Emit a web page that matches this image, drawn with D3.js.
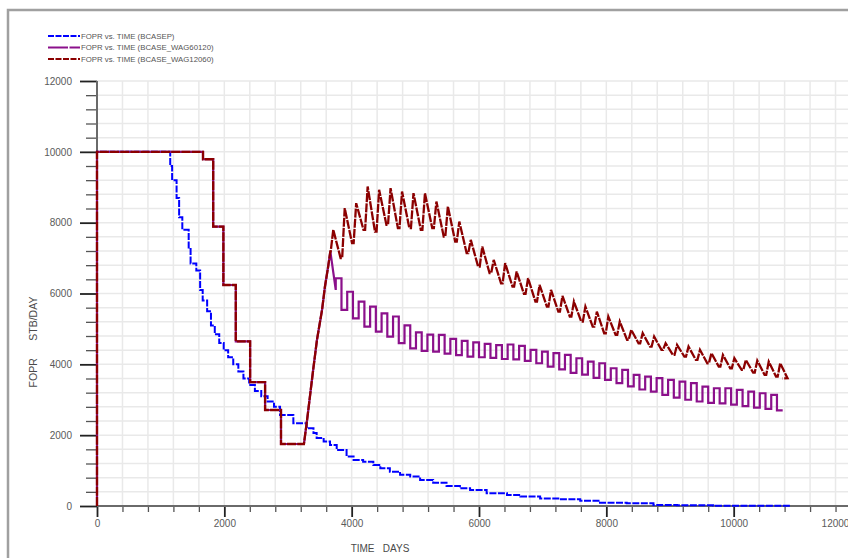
<!DOCTYPE html>
<html>
<head>
<meta charset="utf-8">
<script src="https://cdn.jsdelivr.net/npm/d3@7"></script>
<style>
  html, body { margin: 0; padding: 0; background: #ffffff; }
  svg { display: block; font-family: "Liberation Sans", Arial, sans-serif; }
</style>
</head>
<body>
<svg id="chart" width="848" height="558"></svg>
<script>
// ---- data -------------------------------------------------------------
const xMajorTicks = [0, 2000, 4000, 6000, 8000, 10000, 12000];
const yMajorTicks = [0, 2000, 4000, 6000, 8000, 10000, 12000];
const minorStep = 400;

const seriesNames = [
  "FOPR vs. TIME (BCASEP)",
  "FOPR vs. TIME (BCASE_WAG60120)",
  "FOPR vs. TIME (BCASE_WAG12060)"
];
const seriesColors = ["#0000ff", "#8b108b", "#8b0000"];

// base case: [time (days), oil rate (STB/day)], held until the next report
const baseCase = [
  [0, 0], [0, 10000], [1150, 9600], [1180, 9200], [1250, 8700], [1290, 8150],
  [1340, 7800], [1440, 7300], [1470, 6850], [1560, 6650], [1620, 6100],
  [1660, 5800], [1730, 5500], [1790, 5100], [1850, 4850], [1920, 4600],
  [1990, 4400], [2060, 4200], [2140, 4000], [2220, 3800], [2300, 3600],
  [2390, 3420], [2480, 3250], [2580, 3100], [2680, 2950], [2780, 2800],
  [2875, 2570], [3084, 2340], [3294, 2195], [3400, 2060], [3450, 1920],
  [3560, 1820], [3660, 1720], [3765, 1580], [3920, 1400], [4030, 1300],
  [4180, 1250], [4340, 1160], [4450, 1065], [4600, 970], [4760, 880],
  [4920, 830], [5075, 735], [5280, 660], [5490, 565], [5700, 500],
  [5860, 450], [6120, 360], [6440, 310], [6650, 265], [6960, 215],
  [7270, 190], [7590, 150], [7900, 95], [8320, 75], [8740, 30],
  [9110, 20], [9680, 10], [10200, 5], [10890, 5]
];

// shared history of both WAG cases before injection starts
const wagHistory = [
  [0, 0], [0, 10000], [1665, 10000], [1665, 9790], [1825, 9790], [1825, 7890],
  [1985, 7890], [1985, 6240], [2180, 6240], [2180, 4650], [2405, 4650],
  [2405, 3500], [2640, 3500], [2640, 2710], [2890, 2710], [2890, 1750],
  [3250, 1750], [3300, 2430], [3395, 3840], [3455, 4690], [3535, 5540],
  [3580, 6190], [3630, 6750], [3665, 7190]
];

// WAG 60/120 cycles: [peak time, cycle high rate, cycle low rate]
const wag60120 = [
  [3800, 6430, 5540], [3980, 6050, 5300], [4160, 5770, 5065], [4340, 5630, 4925],
  [4520, 5440, 4783], [4700, 5350, 4600], [4880, 5100, 4450], [5060, 4900, 4380],
  [5240, 4840, 4360], [5420, 4830, 4300], [5600, 4720, 4260], [5780, 4660, 4220],
  [5960, 4620, 4200], [6140, 4580, 4180], [6320, 4540, 4150], [6500, 4560, 4140],
  [6680, 4520, 4100], [6860, 4407, 4031], [7040, 4359, 3937], [7220, 4314, 3860],
  [7400, 4266, 3760], [7580, 4172, 3710], [7760, 4077, 3620], [7940, 4031, 3560],
  [8120, 3890, 3467], [8300, 3842, 3380], [8480, 3701, 3290], [8660, 3653, 3230],
  [8840, 3608, 3140], [9020, 3560, 3060], [9200, 3512, 3000], [9380, 3467, 2950],
  [9560, 3370, 2910], [9740, 3325, 2900], [9920, 3325, 2860], [10100, 3277, 2820],
  [10280, 3229, 2780], [10460, 3184, 2740], [10640, 3136, 2700]
];

// WAG 120/60 cycles: [peak time, cycle high rate, cycle low rate]
const wag12060 = [
  [3711, 7800, 7000], [3891, 8410, 7421], [4071, 8550, 7797], [4251, 9020, 7750],
  [4431, 8930, 7938], [4611, 8975, 7844], [4791, 8880, 7844], [4971, 8833, 7797],
  [5151, 8833, 7844], [5331, 8597, 7609], [5511, 8456, 7468], [5691, 8032, 7138],
  [5871, 7515, 6760], [6051, 7326, 6573], [6231, 6950, 6290], [6411, 6855, 6196],
  [6591, 6620, 5989], [6771, 6432, 5773], [6951, 6243, 5631], [7131, 6102, 5490],
  [7311, 5932, 5349], [7491, 5772, 5207], [7671, 5630, 5066], [7851, 5489, 4878],
  [8031, 5348, 4831], [8211, 5206, 4690], [8391, 4972, 4595], [8571, 4879, 4501],
  [8751, 4783, 4407], [8931, 4596, 4266], [9111, 4548, 4219], [9291, 4500, 4125],
  [9471, 4407, 4030], [9651, 4314, 3936], [9831, 4266, 3889], [10011, 4172, 3842],
  [10191, 4125, 3767], [10371, 4106, 3701], [10551, 4077, 3654], [10731, 4031, 3607]
];

// ---- layout -----------------------------------------------------------
const svg = d3.select("#chart");
const W = 848, H = 558;
const x = d3.scaleLinear().domain([0, 12000]).range([97, 861]);
const y = d3.scaleLinear().domain([0, 12000]).range([506, 81]);

const xMinor = d3.range(0, 12001, minorStep).filter(v => !xMajorTicks.includes(v));
const yMinor = d3.range(0, 12001, minorStep).filter(v => !yMajorTicks.includes(v));
const gridVals = d3.range(0, 12001, minorStep);

// outer frame
svg.append("path")
  .attr("d", `M8,${H} V10 H${W}`)
  .attr("fill", "none").attr("stroke", "#a0a0a0").attr("stroke-width", 2.5);

// grid
const grid = svg.append("g");
grid.selectAll("line.gx").data(gridVals.slice(1)).join("line")
  .attr("x1", d => x(d)).attr("x2", d => x(d))
  .attr("y1", y(12000)).attr("y2", y(0))
  .attr("stroke", "#e9e9e9").attr("stroke-width", 1.5);
grid.selectAll("line.gy").data(gridVals.slice(1)).join("line")
  .attr("x1", x(0)).attr("x2", W)
  .attr("y1", d => y(d)).attr("y2", d => y(d))
  .attr("stroke", "#e9e9e9").attr("stroke-width", 1.5);

// axes
function styleAxis(g, tickColor, tickWidth) {
  g.select(".domain").remove();
  g.selectAll(".tick line").attr("stroke", tickColor).attr("stroke-width", tickWidth);
  g.selectAll(".tick text").attr("fill", "#5a5a5a")
    .style("font-family", '"Liberation Sans", Arial, sans-serif').style("font-size", "10px");
}

const xAxisMinor = svg.append("g").attr("transform", `translate(0,${y(0)})`)
  .call(d3.axisBottom(x).tickValues(xMinor).tickSize(6).tickSizeOuter(0).tickFormat(""));
styleAxis(xAxisMinor, "#555", 1.3);

const xAxisMajor = svg.append("g").attr("transform", `translate(0,${y(0)})`)
  .call(d3.axisBottom(x).tickValues(xMajorTicks).tickSize(11).tickSizeOuter(0)
    .tickPadding(3).tickFormat(d3.format("d")));
styleAxis(xAxisMajor, "#222", 1.8);
xAxisMajor.selectAll(".tick text").filter(d => d === 12000).attr("dx", -26);

const yAxisMinor = svg.append("g").attr("transform", `translate(${x(0)},0)`)
  .call(d3.axisLeft(y).tickValues(yMinor).tickSize(11).tickSizeOuter(0).tickFormat(""));
styleAxis(yAxisMinor, "#555", 1.3);

const yAxisMajor = svg.append("g").attr("transform", `translate(${x(0)},0)`)
  .call(d3.axisLeft(y).tickValues(yMajorTicks).tickSize(17).tickSizeOuter(0)
    .tickPadding(8).tickFormat(d3.format("d")));
styleAxis(yAxisMajor, "#222", 1.8);

// axis lines
svg.append("line").attr("x1", x(0)).attr("x2", W).attr("y1", y(0)).attr("y2", y(0))
  .attr("stroke", "#6a6a6a").attr("stroke-width", 2);
svg.append("line").attr("x1", x(0)).attr("x2", x(0)).attr("y1", y(12000)).attr("y2", y(0))
  .attr("stroke", "#6a6a6a").attr("stroke-width", 2);

// axis titles
svg.append("text").attr("x", 380).attr("y", 552).attr("text-anchor", "middle")
  .attr("fill", "#4a4a4a").style("font-size", "10px").attr("xml:space", "preserve")
  .text("TIME   DAYS");
svg.append("text").attr("transform", `translate(37,342) rotate(-90)`)
  .attr("text-anchor", "middle").attr("fill", "#4a4a4a").style("font-size", "10.5px")
  .attr("xml:space", "preserve").text("FOPR      STB/DAY");

// ---- series vertices --------------------------------------------------
function wag60120Path() {
  const pts = wagHistory.slice();
  let prevLow = 6100;
  wag60120.forEach(([t, hi, lo]) => {
    pts.push([t - 50, prevLow], [t - 50, hi], [t + 40, hi], [t + 40, lo]);
    prevLow = lo;
  });
  pts.push([10770, prevLow]);
  return pts;
}
function wag12060Path() {
  const pts = wagHistory.slice();
  let prevLow = 7190;
  wag12060.forEach(([t, hi, lo]) => {
    pts.push([t - 40, prevLow], [t, hi], [t + 115, lo]);
    prevLow = lo;
  });
  pts.push([10770, 3600]);
  return pts;
}

const plot = svg.append("g");
const lineLin = d3.line().x(d => x(d[0])).y(d => y(d[1]));
const lineStep = d3.line().x(d => x(d[0])).y(d => y(d[1])).curve(d3.curveStepAfter);

plot.append("path").datum(baseCase).attr("d", lineStep)
  .attr("fill", "none").attr("stroke", seriesColors[0]).attr("stroke-width", 2)
  .attr("stroke-dasharray", "7,1.5");
plot.append("path").datum(wag60120Path()).attr("d", lineLin)
  .attr("fill", "none").attr("stroke", seriesColors[1]).attr("stroke-width", 2.2)
  .attr("stroke-linejoin", "miter");
plot.append("path").datum(wag12060Path()).attr("d", lineLin)
  .attr("fill", "none").attr("stroke", seriesColors[2]).attr("stroke-width", 2.3)
  .attr("stroke-dasharray", "9,1.2");

// ---- legend -----------------------------------------------------------
const legendDash = ["6,1.5", "20,1.5", "6,1.5"];
const legend = svg.append("g");
seriesNames.forEach((name, i) => {
  const ly = 36 + i * 11.5;
  legend.append("line").attr("x1", 48).attr("x2", 80).attr("y1", ly).attr("y2", ly)
    .attr("stroke", seriesColors[i]).attr("stroke-width", 2)
    .attr("stroke-dasharray", legendDash[i]);
  legend.append("text").attr("x", 81).attr("y", ly).attr("dy", "0.35em")
    .attr("fill", "#555").style("font-size", "7.8px").text(name);
});
</script>
</body>
</html>
